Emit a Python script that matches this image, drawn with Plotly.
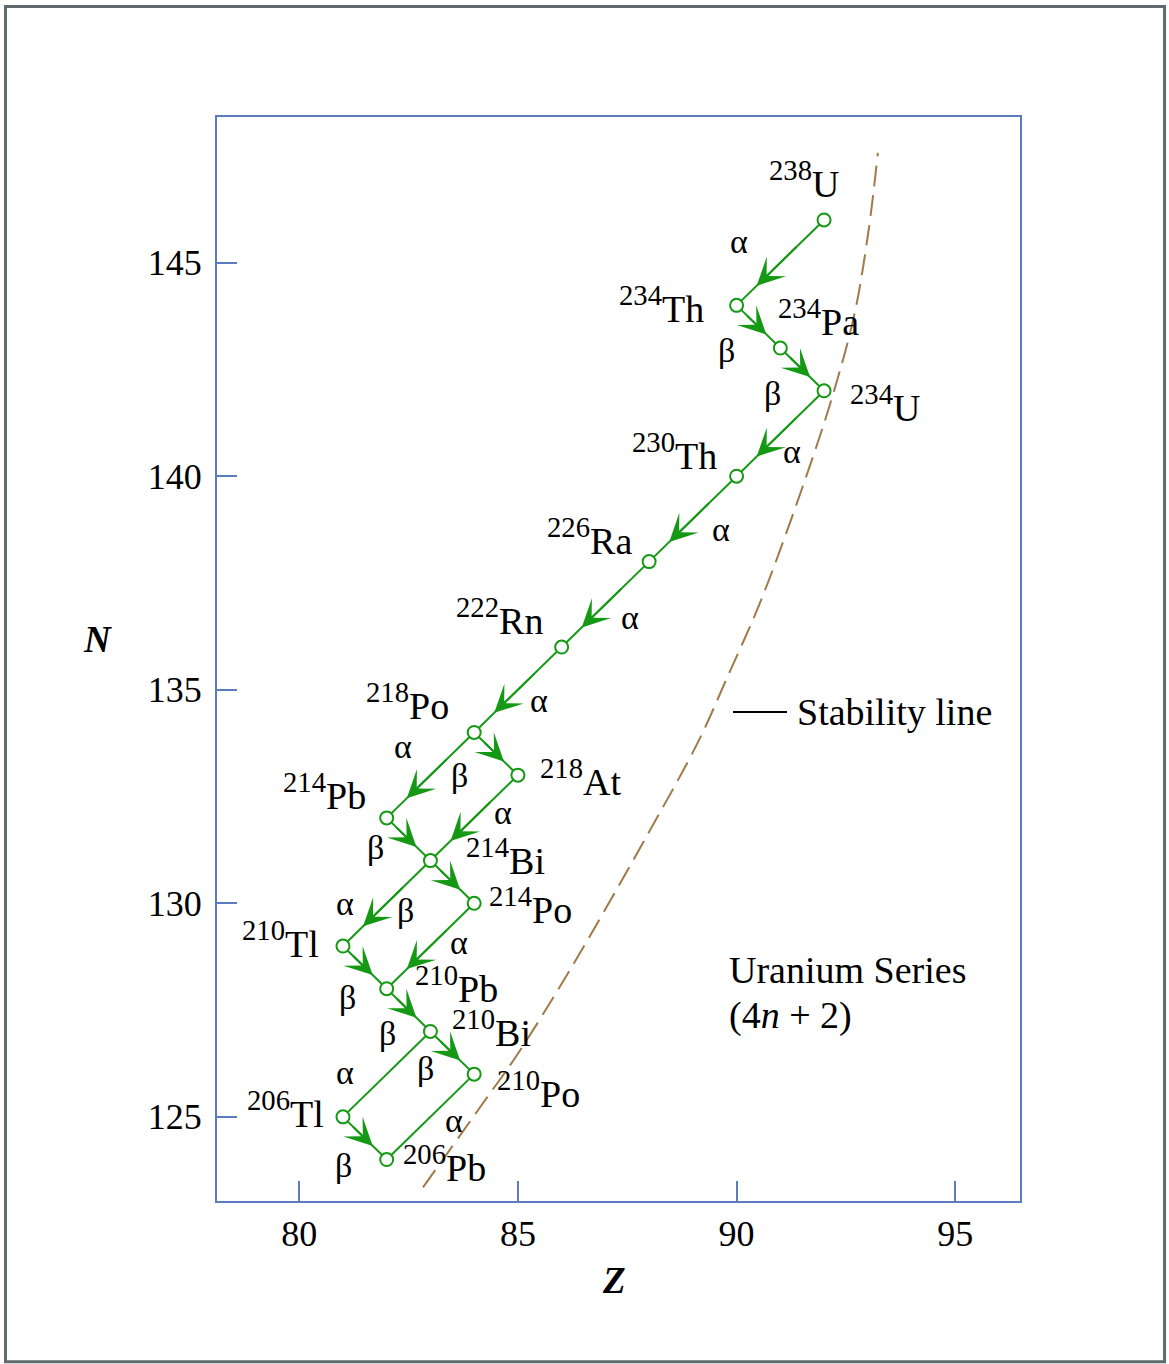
import plotly.graph_objects as go

# ---------------- data ----------------
nuclides = ["U-238", "Th-234", "Pa-234", "U-234", "Th-230", "Ra-226", "Rn-222",
            "Po-218", "At-218", "Pb-214", "Bi-214", "Po-214", "Tl-210", "Pb-210",
            "Bi-210", "Po-210", "Tl-206", "Pb-206"]
symbols = ["U", "Th", "Pa", "U", "Th", "Ra", "Rn", "Po", "At", "Pb", "Bi", "Po",
           "Tl", "Pb", "Bi", "Po", "Tl", "Pb"]
mass_numbers = [238, 234, 234, 234, 230, 226, 222, 218, 218, 214, 214, 214,
                210, 210, 210, 210, 206, 206]
Z = [92, 90, 91, 92, 90, 88, 86, 84, 85, 82, 83, 84, 81, 82, 83, 84, 81, 82]
N = [146, 144, 143, 142, 140, 138, 136, 134, 133, 132, 131, 130, 129, 128,
     127, 126, 125, 124]

decay_from = ["U-238", "Th-234", "Pa-234", "U-234", "Th-230", "Ra-226", "Rn-222",
              "Po-218", "Po-218", "At-218", "Pb-214", "Bi-214", "Bi-214", "Po-214",
              "Tl-210", "Pb-210", "Bi-210", "Bi-210", "Po-210", "Tl-206"]
decay_to = ["Th-234", "Pa-234", "U-234", "Th-230", "Ra-226", "Rn-222", "Po-218",
            "Pb-214", "At-218", "Bi-214", "Bi-214", "Tl-210", "Po-214", "Pb-210",
            "Pb-210", "Bi-210", "Po-210", "Tl-206", "Pb-206", "Pb-206"]
decay_mode = ["α", "β", "β", "α", "α", "α", "α", "α", "β", "α", "β", "α", "β",
              "α", "β", "β", "β", "α", "α", "β"]
decay_has_arrow = [True, True, True, True, True, True, True, True, True, True,
                   True, True, True, True, True, True, True, False, False, True]

# stability line
stab_Z = [82.83, 84.25, 84.98, 86.19, 88.02, 89.14, 89.76, 90.56, 91.58, 92.20,
          92.70, 93.02, 93.23]
stab_N = [123.35, 125.39, 126.45, 128.44, 131.71, 133.82, 135.23, 137.10, 139.96,
          141.90, 143.82, 145.77, 147.57]

x_ticks = [80, 85, 90, 95]
y_ticks = [125, 130, 135, 140, 145]

# ---------------- styles ----------------
GREEN = "#159915"
FRAME = "#5b7bc2"
BROWN = "#a07a48"
FONT = "Liberation Serif"

# label placement: (anchor, dx, dy) in px relative to the nuclide point (dy down)
label_pos = {
    "U-238": ("center", -20, -40), "Th-234": ("right", -31, -1),
    "Pa-234": ("left", -4, -31), "U-234": ("left", 24, 13),
    "Th-230": ("right", -18, -25), "Ra-226": ("right", -15, -25),
    "Rn-222": ("right", -17, -31), "Po-218": ("right", -23, -31),
    "At-218": ("left", 20, 2), "Pb-214": ("right", -19, -26),
    "Bi-214": ("left", 34, -4), "Po-214": ("left", 13, 2),
    "Tl-210": ("right", -22, -7), "Pb-210": ("left", 26, -4),
    "Bi-210": ("left", 20, -3), "Po-210": ("left", 21, 15),
    "Tl-206": ("right", -17, -7), "Pb-206": ("left", 14, 4),
}
# greek label offsets (px, dy down) from each decay segment midpoint
greek_pos = [(-41, -21), (-32, 24), (-30, 24), (12, 18), (28, 11), (25, 13),
             (21, 11), (-27, -29), (-37, 22), (29, -5), (-33, 8), (-42, 0),
             (-47, 29), (29, -4), (-17, 30), (-21, 23), (-27, 16), (-42, -2),
             (24, 4), (-21, 27)]

idx = {n: i for i, n in enumerate(nuclides)}

fig = go.Figure()

# stability line
fig.add_trace(go.Scatter(x=stab_Z, y=stab_N, mode="lines",
                         line=dict(color=BROWN, width=2, dash="21px,9px", shape="spline",
                                   smoothing=1.0),
                         hoverinfo="skip", showlegend=False))

# decay lines
lx, ly = [], []
for a, b in zip(decay_from, decay_to):
    i, j = idx[a], idx[b]
    lx += [Z[i], Z[j], None]
    ly += [N[i], N[j], None]
fig.add_trace(go.Scatter(x=lx, y=ly, mode="lines",
                         line=dict(color=GREEN, width=2),
                         hoverinfo="skip", showlegend=False))

# nuclide points
fig.add_trace(go.Scatter(x=Z, y=N, mode="markers",
                         marker=dict(symbol="circle", size=13, color="white",
                                     line=dict(color=GREEN, width=2)),
                         text=nuclides, hoverinfo="text", showlegend=False))

annotations = []
# arrowheads and greek labels
for k, (a, b) in enumerate(zip(decay_from, decay_to)):
    i, j = idx[a], idx[b]
    x0, y0, x1, y1 = Z[i], N[i], Z[j], N[j]
    if decay_has_arrow[k]:
        f = 0.77 if decay_mode[k] == "α" else 0.68
        tx, ty = x0 + f * (x1 - x0), y0 + f * (y1 - y0)
        g = 0.3 if decay_mode[k] == "α" else 0.2
        bx, by = x0 + g * (x1 - x0), y0 + g * (y1 - y0)
        annotations.append(dict(x=tx, y=ty, ax=bx, ay=by, xref="x", yref="y",
                                axref="x", ayref="y", text="", showarrow=True,
                                arrowhead=3, arrowsize=2.3, arrowwidth=2,
                                arrowcolor=GREEN, standoff=0, startstandoff=0))
    mx, my = (x0 + x1) / 2, (y0 + y1) / 2
    dx, dy = greek_pos[k]
    annotations.append(dict(x=mx, y=my, xref="x", yref="y", text=decay_mode[k],
                            showarrow=False, xshift=dx, yshift=-dy,
                            xanchor="center", yanchor="middle",
                            font=dict(family=FONT, size=34, color="black")))

# nuclide labels
for n, s, m, z, nn in zip(nuclides, symbols, mass_numbers, Z, N):
    anc, dx, dy = label_pos[n]
    annotations.append(dict(x=z, y=nn, xref="x", yref="y",
                            text=f"<sup>{m}</sup><span style='font-size:38px'>{s}</span>",
                            showarrow=False,
                            xanchor=anc, yanchor="middle", xshift=dx, yshift=-dy,
                            font=dict(family=FONT, size=41, color="black")))

# axis titles
annotations.append(dict(x=-0.1494, y=0.518, xref="paper", yref="paper",
                        text="<b><i>N</i></b>", showarrow=False,
                        xanchor="center", yanchor="middle",
                        font=dict(family=FONT, size=37, color="black")))
annotations.append(dict(x=0.4944, y=-0.0735, xref="paper", yref="paper",
                        text="<b><i>Z</i></b>", showarrow=False,
                        xanchor="center", yanchor="middle",
                        font=dict(family=FONT, size=37, color="black")))
# legend text
annotations.append(dict(x=0.7200, y=0.4515, xref="paper", yref="paper",
                        text="Stability line", showarrow=False,
                        xanchor="left", yanchor="middle",
                        font=dict(family=FONT, size=38, color="black")))
annotations.append(dict(x=0.6351, y=0.2130, xref="paper", yref="paper",
                        text="Uranium Series", showarrow=False,
                        xanchor="left", yanchor="middle",
                        font=dict(family=FONT, size=38, color="black")))
annotations.append(dict(x=0.6351, y=0.1714, xref="paper", yref="paper",
                        text="(4<i>n</i> + 2)", showarrow=False,
                        xanchor="left", yanchor="middle",
                        font=dict(family=FONT, size=38, color="black")))

shapes = [
    dict(type="rect", xref="paper", yref="paper", x0=-0.2634, x1=1.1800,
         y0=-0.1484, y1=1.1020, line=dict(color="#5f6a6d", width=3),
         fillcolor="rgba(0,0,0,0)", layer="below"),
    dict(type="line", xref="paper", yref="paper", x0=0.6426, x1=0.7098,
         y0=0.4512, y1=0.4512, line=dict(color="black", width=2)),
]

axis_common = dict(showline=True, mirror=True, linecolor=FRAME, linewidth=2,
                   ticks="inside", ticklen=20, tickwidth=2, tickcolor=FRAME,
                   showgrid=False, zeroline=False,
                   tickfont=dict(family=FONT, size=36, color="black"))

fig.update_layout(
    width=1169, height=1364,
    margin=dict(l=217, r=149, t=117, b=163),
    paper_bgcolor="white", plot_bgcolor="white",
    font=dict(family=FONT),
    xaxis=dict(range=[78.12, 96.48], tickvals=x_ticks, **axis_common),
    yaxis=dict(range=[123.03, 148.41], tickvals=y_ticks, ticklabelstandoff=6,
               **axis_common),
    annotations=annotations, shapes=shapes, showlegend=False,
)

fig.write_html("out.html", config={"displayModeBar": False},
               post_script="document.body.style.margin='0';document.body.style.overflow='hidden';")
